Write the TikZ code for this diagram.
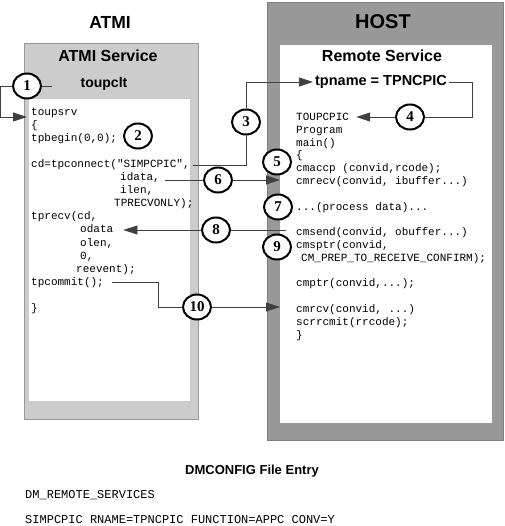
\documentclass[tikz,border=0pt]{standalone}
\usepackage{fontspec}
\setmainfont{Liberation Serif}
\setsansfont{Liberation Sans}
\setmonofont{Liberation Mono}
\usetikzlibrary{positioning}
\usetikzlibrary{shapes.geometric}
\usetikzlibrary{arrows.meta}

\begin{document}
\begin{tikzpicture}[x=1pt,y=-1pt,
    num/.style={draw, ellipse, line width=2pt, fill=white, inner sep=0pt, minimum width=28pt, minimum height=25pt, font=\fontsize{15}{15}\selectfont\bfseries},
    code/.style={inner xsep=3pt, inner ysep=1pt, anchor=base west, font=\ttfamily\fontsize{11}{13}\selectfont},
    title/.style={inner sep=2pt, font=\sffamily\bfseries\fontsize{#1}{#1}\selectfont},
    conn/.style={draw=black!75, line width=0.8pt},
    arr/.style={conn, -{Triangle[length=14pt,width=9pt]}}]
    \useasboundingbox (0,0) rectangle (504,526);
    % boxes
    \node[fill=black!20, draw=black!40, minimum width=174pt, minimum height=376pt, anchor=north west] (atmibox) at (24,43) {};
    \node[fill=white, minimum width=161pt, minimum height=302pt, anchor=north west] (atmiin) at (29,99) {};
    \node[fill=black!40, draw=black!50, minimum width=236pt, minimum height=438pt, anchor=north west] (hostbox) at (267,2) {};
    \node[fill=white, minimum width=212pt, minimum height=378pt, anchor=north west] (hostin) at (280,45) {};
    % titles
    \node[title=17.5] (atmi) at (110,22) {ATMI};
    \node[title=16] (atmisrv) at (108,56) {ATMI Service};
    \node[title=14] (toupclt) at (104,84) {toupclt};
    \node[title=20] (host) at (383,22) {HOST};
    \node[title=16] (remote) at (382,56) {Remote Service};
    \node[title=14.5] (tpname) at (381,82) {tpname = TPNCPIC};
    % code
    \foreach \i/\dx/\txt in {0/0/toupsrv, 1/0/\{, 2/0/{tpbegin(0,0);},
        4/0/{cd=tpconnect("SIMPCPIC",}, 5/89/{idata,}, 6/89/{ilen,}, 7/83/{TPRECVONLY);},
        8/0/{tprecv(cd,}, 9/49/odata, 10/49/{olen,}, 11/49/{0,}, 12/45/{reevent);},
        13/0/{tpcommit();}, 15/0/\}}
        \node[code] (a\i) at (28+\dx,116+13*\i) {\txt};
    \foreach \i/\dx/\txt in {0/0/TOUPCPIC, 1/0/Program, 2/0/main(), 3/0/\{,
        4/0/{cmaccp (convid,rcode);}, 5/0/{cmrecv(convid, ibuffer...)},
        7/0/{...(process data)...}, 9/0/{cmsend(convid, obuffer...)},
        10/0/{cmsptr(convid,}, 11/5/{CM\_PREP\_TO\_RECEIVE\_CONFIRM);},
        13/0/{cmptr(convid,...);}, 15/0/{cmrcv(convid, ...)},
        16/0/{scrrcmit(rrcode);}, 17/0/\}}
        \node[code] (b\i) at (293+\dx,120.5+12.8*\i) {\txt};
    \coordinate (in1) at (27,117);
    \coordinate (idataend) at ([xshift=2pt]a5.east);
    \coordinate (odataend) at ([xshift=7pt]a9.east);
    \coordinate (commitend) at ([xshift=5pt]a13.east);
    \coordinate (toupend) at ([xshift=4pt]b0.east);
    \coordinate (sendstart) at ([xshift=-7pt]b9.west);
    % circles
    \node[num] (c1) at (27,86) {1};
    \node[num] (c2) at (138,136) {2};
    \node[num] (c3) at (246,122) {3};
    \node[num] (c4) at (410,117) {4};
    \node[num] (c5) at (277,162) {5};
    \node[num] (c6) at (218,180) {6};
    \node[num] (c7) at (278,207) {7};
    \node[num] (c8) at (216,230) {8};
    \node[num] (c9) at (277,247) {9};
    \node[num] (c10) at (197,307) {10};
    % connectors
    \draw[conn] (c1.east) -- ++(10,0);
    \draw[arr] (c1.west) -- ++(-12,0) |- (in1);
    \draw[arr] (c3.north) |- (tpname.west);
    \draw[conn] (c3.south) |- (a4.east);
    \draw[conn] (tpname.east) -- ++(23,0) |- (c4.east);
    \draw[arr] (c4.west) -- (c4.west -| toupend);
    \draw[conn] (c6.west) -- (c6.west -| idataend);
    \draw[arr] (c6.east) -- (c6.east -| hostin.west);
    \draw[conn] (c8.east) -- (c8.east -| sendstart);
    \draw[arr] (c8.west) -- (c8.west -| odataend);
    \draw[conn] (commitend) -- ++(46,0) |- (c10.west);
    \draw[arr] (c10.east) -- (c10.east -| hostin.west);
    % file entry
    \node[title=13] (dmtitle) at (252,471) {DMCONFIG File Entry};
    \node[code, font=\ttfamily\fontsize{12}{14}\selectfont] (dmsec) at (22,498) {DM\_REMOTE\_SERVICES};
    \node[code, font=\ttfamily\fontsize{12}{14}\selectfont] (dmline) at (22,523) {SIMPCPIC RNAME=TPNCPIC FUNCTION=APPC CONV=Y};
\end{tikzpicture}
\end{document}
